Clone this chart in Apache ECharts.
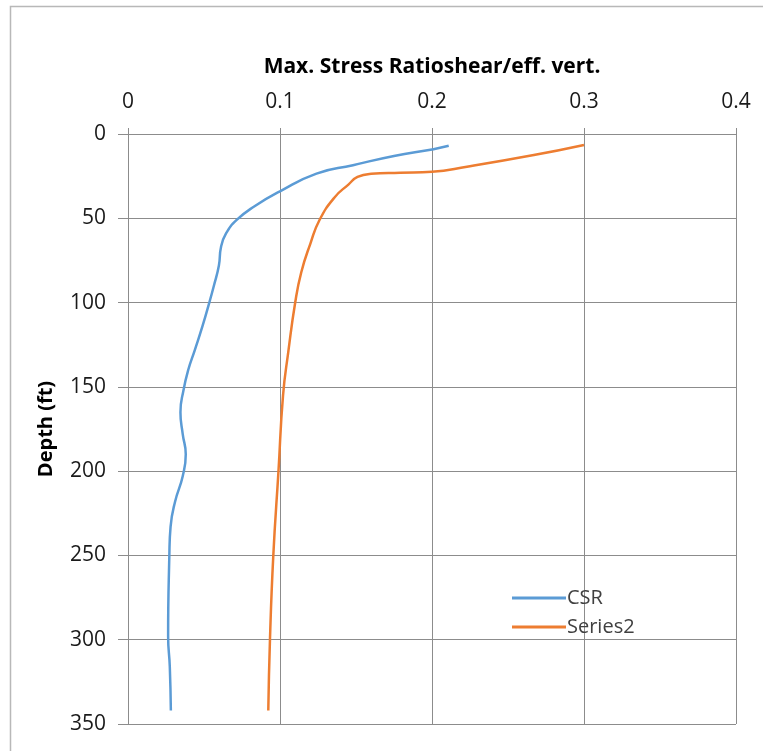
<!DOCTYPE html>
<html>
<head>
<meta charset="utf-8">
<script src="https://cdn.jsdelivr.net/npm/echarts@6/dist/echarts.min.js"></script>
<style>html,body{margin:0;padding:0;background:#fff;}#c{width:763px;height:751px;}</style>
</head>
<body>
<div id="c"></div>
<script>
var xTicks = [0, 0.1, 0.2, 0.3, 0.4];
var yTicks = [0, 50, 100, 150, 200, 250, 300, 350];
var seriesNames = ['CSR', 'Series2'];
// [ratio, depth]
var csr = [
  [0.211, 7], [0.201, 9], [0.175, 13], [0.148, 18.5], [0.124, 23.5], [0.1, 34],
  [0.083, 43], [0.0715, 51], [0.0645, 59], [0.0612, 67], [0.0598, 78], [0.0565, 90],
  [0.0535, 100], [0.049, 114], [0.044, 128], [0.0396, 140], [0.0365, 152],
  [0.0345, 165], [0.036, 178], [0.038, 190], [0.036, 203], [0.031, 218],
  [0.028, 233], [0.0272, 250], [0.0264, 298], [0.0275, 316], [0.0282, 342]
];
var series2 = [
  [0.300, 6.5], [0.267, 12.5], [0.223, 19.4], [0.2, 22.4], [0.179, 23],
  [0.16, 23.6], [0.151, 25.5], [0.145, 30], [0.136, 37.5], [0.126, 51],
  [0.12, 65], [0.114, 82], [0.11, 100], [0.1055, 129], [0.102, 155],
  [0.099, 200], [0.0956, 250], [0.0934, 300], [0.0923, 342]
];

var font = '"Open Sans", Lato, sans-serif';
var chart = echarts.init(document.getElementById('c'));
chart.setOption({
  animation: false,
  backgroundColor: '#fff',
  graphic: [{
    type: 'rect', left: 8, top: 4,
    shape: { width: 800, height: 800 },
    style: { fill: 'none', stroke: '#b8b8b8', lineWidth: 1.5 },
    silent: true, z: -1
  }],
  grid: { left: 128, top: 134, right: 27, bottom: 27, containLabel: false },
  legend: {
    orient: 'vertical', left: 507, top: 583,
    itemWidth: 54, itemHeight: 3, itemGap: 9,
    icon: 'rect',
    data: seriesNames,
    textStyle: { fontFamily: font, fontSize: 20, color: '#404040', padding: [0, 0, 0, -4] }
  },
  xAxis: {
    type: 'value', position: 'top', min: xTicks[0], max: xTicks[xTicks.length - 1], interval: 0.1,
    name: 'Max. Stress Ratioshear/eff. vert.', nameLocation: 'middle', nameGap: 56,
    nameTextStyle: { fontFamily: font, fontSize: 21, fontWeight: 'bold', color: '#000' },
    axisLine: { show: true, lineStyle: { color: '#8c8c8c', width: 1 } },
    axisTick: { show: true, length: 6, lineStyle: { color: '#8c8c8c' } },
    axisLabel: { fontFamily: font, fontSize: 21, color: '#1a1a1a', margin: 21,
      formatter: function (v) { return String(+v.toFixed(1)); } },
    splitLine: { show: true, lineStyle: { color: '#8c8c8c', width: 1 } }
  },
  yAxis: {
    type: 'value', inverse: true, min: yTicks[0], max: yTicks[yTicks.length - 1], interval: 50,
    name: 'Depth (ft)', nameLocation: 'middle', nameGap: 72, nameRotate: 90,
    nameTextStyle: { fontFamily: font, fontSize: 20, fontWeight: 'bold', color: '#000' },
    axisLine: { show: true, lineStyle: { color: '#8c8c8c', width: 1 } },
    axisTick: { show: true, length: 10, lineStyle: { color: '#8c8c8c' } },
    axisLabel: { fontFamily: font, fontSize: 21, color: '#1a1a1a', margin: 22 },
    splitLine: { show: true, lineStyle: { color: '#8c8c8c', width: 1 } }
  },
  series: [
    { name: seriesNames[0], type: 'line', data: csr, smooth: 0.5, symbol: 'none',
      lineStyle: { color: '#5B9BD5', width: 2.5 }, itemStyle: { color: '#5B9BD5' } },
    { name: seriesNames[1], type: 'line', data: series2, smooth: 0.5, symbol: 'none',
      lineStyle: { color: '#ED7D31', width: 2.5 }, itemStyle: { color: '#ED7D31' } }
  ]
});
</script>
</body>
</html>
